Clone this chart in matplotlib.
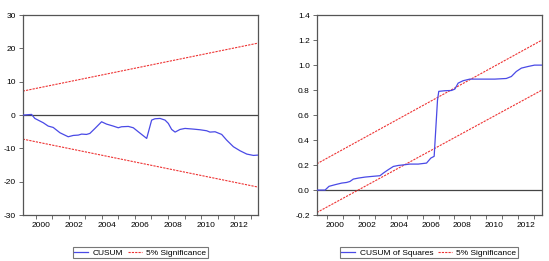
import matplotlib
matplotlib.use("Agg")
import matplotlib.pyplot as plt

plt.rcParams['font.family'] = ['Liberation Sans', 'DejaVu Sans']
plt.rcParams['font.size'] = 6

# time axes (fractional years)
x_range1 = [1999.21, 2013.45]
x_range2 = [1999.33, 2013.50]
year_labels = ["2000", "2002", "2004", "2006", "2008", "2010", "2012"]
label_years = [2000, 2002, 2004, 2006, 2008, 2010, 2012]
tick_years = list(range(2000, 2014))

# CUSUM
cusum_t = [1999.21, 1999.74, 1999.94, 2000.45, 2000.75, 2001.05, 2001.46, 2001.96,
           2002.27, 2002.57, 2002.77, 2003.07, 2003.27, 2003.58, 2003.98, 2004.28,
           2004.69, 2004.99, 2005.19, 2005.60, 2005.90, 2006.20, 2006.71, 2007.01,
           2007.21, 2007.52, 2007.82, 2008.02, 2008.22, 2008.43, 2008.73, 2009.03,
           2009.53, 2009.94, 2010.34, 2010.54, 2010.85, 2011.25, 2011.55, 2011.96,
           2012.36, 2012.77, 2013.17, 2013.45]
cusum = [0.0, 0.2, -1.0, -2.3, -3.3, -3.7, -5.3, -6.5,
         -6.1, -6.0, -5.7, -5.8, -5.5, -4.0, -2.0, -2.7,
         -3.3, -3.8, -3.5, -3.4, -3.8, -5.0, -7.0, -1.5,
         -1.1, -1.0, -1.5, -2.5, -4.3, -5.1, -4.3, -4.0,
         -4.2, -4.4, -4.7, -5.1, -5.0, -5.8, -7.5, -9.5,
         -10.7, -11.7, -12.1, -12.0]
cusum_upper = [7.2, 21.6]
cusum_lower = [-7.2, -21.6]

# CUSUM of squares
sq_t = [1999.33, 1999.85, 2000.10, 2000.48, 2000.90, 2001.21, 2001.42, 2001.63,
        2001.95, 2002.37, 2002.78, 2003.31, 2003.52, 2003.83, 2004.15, 2004.46,
        2004.88, 2005.19, 2005.72, 2006.24, 2006.51, 2006.72, 2006.93, 2007.01,
        2007.39, 2007.81, 2008.02, 2008.23, 2008.54, 2008.96, 2009.69, 2010.53,
        2011.26, 2011.58, 2011.89, 2012.21, 2012.63, 2013.04, 2013.50]
sq = [0.0, 0.0, 0.03, 0.043, 0.056, 0.061, 0.069, 0.088,
      0.096, 0.104, 0.109, 0.115, 0.136, 0.163, 0.189, 0.197,
      0.203, 0.208, 0.208, 0.216, 0.256, 0.27, 0.72, 0.79,
      0.795, 0.797, 0.808, 0.856, 0.875, 0.888, 0.888, 0.888,
      0.893, 0.909, 0.949, 0.976, 0.989, 1.0, 1.0]
sq_upper = [0.21, 1.2]
sq_lower = [-0.18, 0.8]

blue = "#4a4ae6"
red = "#ee3333"
frame = "#555555"
dash = (0, (2, 1))

fig = plt.figure(figsize=(5.49, 2.61), dpi=100)
ax1 = fig.add_axes([0.0415, 0.176, 0.4285, 0.766])
ax2 = fig.add_axes([0.577, 0.176, 0.410, 0.766])


def style(ax, xr, label_shift, ylim, yticks, yfmt):
    ax.set_xlim(xr)
    ax.set_ylim(ylim)
    ax.axhline(0, color="#444444", lw=0.9, zorder=1)
    ax.set_xticks(tick_years)
    ax.set_xticklabels([])
    ax.set_xticks([y + label_shift for y in label_years], minor=True)
    ax.set_xticklabels(year_labels, minor=True)
    ax.tick_params(axis="x", which="major", length=3, width=0.6, color=frame)
    ax.tick_params(axis="x", which="minor", length=0, pad=5)
    ax.set_yticks(yticks)
    ax.set_yticklabels([yfmt.format(v) for v in yticks])
    ax.tick_params(axis="y", length=3, width=0.6, color=frame, pad=2)
    for s in ax.spines.values():
        s.set_color(frame)
        s.set_linewidth(0.9)


ax1.plot(cusum_t, cusum, color=blue, lw=0.9, label="CUSUM", zorder=3)
ax1.plot(x_range1, cusum_upper, color=red, lw=0.8, ls=dash, label="5% Significance")
ax1.plot(x_range1, cusum_lower, color=red, lw=0.8, ls=dash)
style(ax1, x_range1, 0.29, (-30, 30), [-30, -20, -10, 0, 10, 20, 30], "{:g}")

ax2.plot(sq_t, sq, color=blue, lw=0.9, label="CUSUM of Squares", zorder=3)
ax2.plot(x_range2, sq_upper, color=red, lw=0.8, ls=dash, label="5% Significance")
ax2.plot(x_range2, sq_lower, color=red, lw=0.8, ls=dash)
style(ax2, x_range2, 0.5, (-0.2, 1.4), [-0.2, 0.0, 0.2, 0.4, 0.6, 0.8, 1.0, 1.2, 1.4], "{:.1f}")

for ax, cx in [(ax1, 0.2557), (ax2, 0.781)]:
    leg = fig.legend(*ax.get_legend_handles_labels(), loc="center",
                     bbox_to_anchor=(cx, 0.032), ncol=2, frameon=True,
                     fancybox=False, edgecolor=frame, handlelength=1.7,
                     columnspacing=0.6, handletextpad=0.5, borderpad=0.2,
                     fontsize=6)
    leg.get_frame().set_linewidth(0.8)

fig.savefig("out.png", dpi=100)
